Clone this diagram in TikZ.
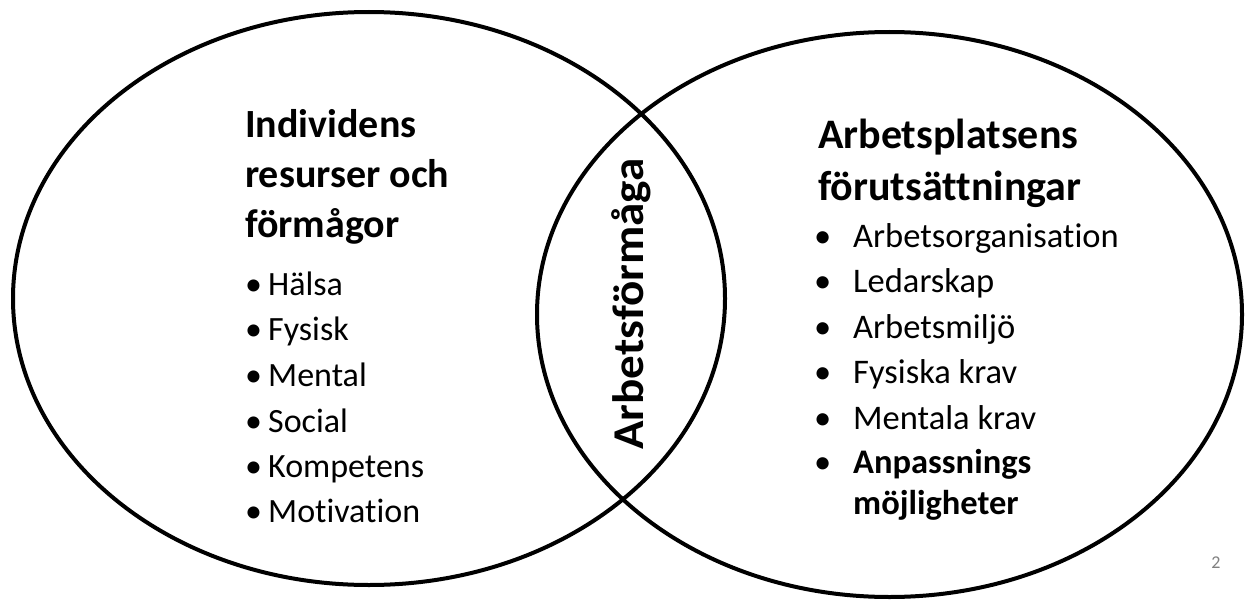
\documentclass[tikz,border=0pt]{standalone}
\usepackage{fontspec}
\setmainfont{Carlito}[Ligatures=NoCommon]
\begin{document}
\begin{tikzpicture}[x=1pt,y=-1pt,
  venn/.style={draw=black,line width=4pt},
  title/.style={anchor=base west,inner sep=0pt,font=\fontsize{40}{48}\selectfont\bfseries},
  rtitle/.style={anchor=base west,inner sep=0pt,font=\fontsize{42}{50}\selectfont\bfseries},
  item/.style={anchor=base west,inner sep=0pt,font=\fontsize{34}{40}\selectfont},
  ritem/.style={anchor=base west,inner sep=0pt,font=\fontsize{34.5}{40}\selectfont}]
\useasboundingbox (0,0) rectangle (1245,602);
\fill[white] (0,0) rectangle (1245,602);
\draw[venn] (369,298.5) ellipse [x radius=356, y radius=286.5];
\draw[venn] (889.5,314.5) ellipse [x radius=352.5, y radius=282.5];
% left
\node[title] (l1) at (245,137) {Individens};
\node[title] (l2) at (245,187) {resurser och};
\node[title] (l3) at (245,237) {förmågor};
\node[item] (li1) at (245,295) {\makebox[23pt][l]{•}Hälsa};
\node[item] (li2) at (245,340) {\makebox[23pt][l]{•}Fysisk};
\node[item] (li3) at (245,386) {\makebox[23pt][l]{•}Mental};
\node[item] (li4) at (245,432) {\makebox[23pt][l]{•}Social};
\node[item] (li5) at (245,477) {\makebox[23pt][l]{•}Kompetens};
\node[item] (li6) at (245,522) {\makebox[23pt][l]{•}Motivation};
% middle
\node[anchor=base,rotate=90,inner sep=0pt,font=\fontsize{44}{50}\selectfont\bfseries] (mid) at (643,304) {\scalebox{1.07}[1]{Arbetsförmåga}};
% right
\node[rtitle] (r1) at (818,148) {Arbetsplatsens};
\node[rtitle] (r2) at (818,200) {förutsättningar};
\node[ritem] (ri1) at (814,247) {\makebox[39pt][l]{•}Arbetsorganisation};
\node[ritem] (ri2) at (814,292) {\makebox[39pt][l]{•}Ledarskap};
\node[ritem] (ri3) at (814,338) {\makebox[39pt][l]{•}Arbetsmiljö};
\node[ritem] (ri4) at (814,383) {\makebox[39pt][l]{•}Fysiska krav};
\node[ritem] (ri5) at (814,429) {\makebox[39pt][l]{•}Mentala krav};
\node[ritem] (ri6) at (814,473) {\makebox[39pt][l]{•}\textbf{Anpassnings}};
\node[ritem,font=\fontsize{34.5}{40}\selectfont\bfseries] (ri7) at (853,514) {möjligheter};
\node[anchor=base,inner sep=0pt,text=gray,font=\fontsize{18}{20}\selectfont] (pg) at (1216,568) {2};
\end{tikzpicture}
\end{document}
